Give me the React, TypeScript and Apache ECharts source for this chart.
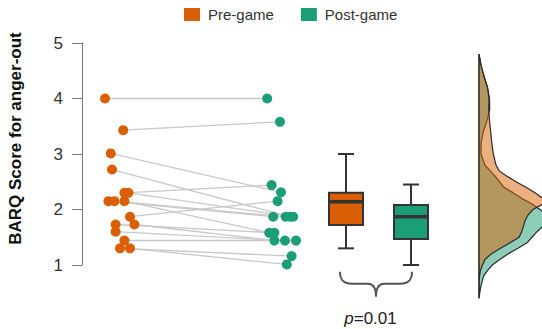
import React, { useEffect, useRef } from "react";
import * as echarts from "echarts";

// ---------- data ----------
const seriesNames = ["Pre-game", "Post-game"];
const seriesColors = ["#D95F02", "#1B9E77"];
const yTicks = [1, 2, 3, 4, 5];

// paired observations (pre[i] is linked to post[i]); x = horizontal jitter position (0-100 scale)
const preX = [5.75, 10.3, 7.2, 7.5, 10.6, 11.6, 6.6, 8.1, 10.6, 12.0, 8.4, 13.1, 8.4, 10.6, 9.5, 12.0];
const preY = [4.0, 3.43, 3.01, 2.72, 2.3, 2.3, 2.15, 2.15, 2.15, 1.87, 1.73, 1.73, 1.6, 1.44, 1.3, 1.3];
const postX = [46.3, 49.5, 49.75, 52.0, 47.4, 52.8, 47.8, 50.9, 46.8, 48.9, 48.1, 48.1, 50.75, 53.5, 52.4, 51.2];
const postY = [4.0, 3.58, 2.31, 1.87, 2.44, 1.87, 1.87, 1.87, 1.58, 2.15, 1.58, 1.44, 1.44, 1.44, 1.16, 1.01];

// box plots: [position, min, q1, median, q3, max]
const boxPre = [66, 1.3, 1.72, 2.14, 2.3, 3.0];
const boxPost = [82.25, 1.0, 1.47, 1.87, 2.08, 2.45];

// density profiles (score level -> density)
const densityScores = [4.8, 4.6, 4.4, 4.2, 4.0, 3.8, 3.6, 3.4, 3.2, 3.0, 2.8, 2.7, 2.6, 2.5, 2.4, 2.3, 2.2, 2.1, 2.0, 1.9, 1.8, 1.7, 1.6, 1.5, 1.4, 1.3, 1.2, 1.1, 1.0, 0.9, 0.8, 0.7, 0.6, 0.5, 0.4];
const densityPre = [0, 0.02, 0.05, 0.085, 0.1, 0.097, 0.105, 0.117, 0.128, 0.143, 0.17, 0.2, 0.28, 0.37, 0.47, 0.56, 0.64, 0.64, 0.54, 0.49, 0.46, 0.445, 0.427, 0.4, 0.31, 0.215, 0.123, 0.06, 0.035, 0.015, 0.005, 0.002, 0, 0, 0];
const densityPost = [0, 0.02, 0.05, 0.085, 0.105, 0.107, 0.08, 0.043, 0.02, 0.02, 0.06, 0.11, 0.16, 0.205, 0.25, 0.34, 0.43, 0.53, 0.61, 0.68, 0.7, 0.64, 0.58, 0.53, 0.48, 0.39, 0.29, 0.207, 0.133, 0.084, 0.046, 0.031, 0.017, 0.008, 0];

const pText = "0.01";
const yAxisTitle = "BARQ Score for anger-out";

const FONT = "'Liberation Sans', Arial, Helvetica, sans-serif";
const BOX_W = 8.5;
const CAP_W = 4;

const bracePath =
  "M0 0 C0 9 4 12 12 12 L28 12 C33 12 36 16 36 25 C36 16 39 12 44 12 L60 12 C68 12 72 9 72 0";
let braceRegistered = false;

export default function App() {
  const ref = useRef<HTMLDivElement>(null);

  useEffect(() => {
    if (!ref.current) return;
    if (!braceRegistered) {
      echarts.graphic.registerShape("brace", echarts.graphic.extendPath(bracePath, {}));
      braceRegistered = true;
    }
    const chart = echarts.init(ref.current, null, { renderer: "svg" });

    const boxRender = (params: any, api: any) => {
      const x = api.value(0);
      const mn = api.value(1), q1 = api.value(2), med = api.value(3), q3 = api.value(4), mx = api.value(5);
      const w = api.size([BOX_W, 0])[0];
      const c = api.size([CAP_W, 0])[0];
      const pMin = api.coord([x, mn]);
      const pQ1 = api.coord([x, q1]);
      const pMed = api.coord([x, med]);
      const pQ3 = api.coord([x, q3]);
      const pMax = api.coord([x, mx]);
      const cx = pMin[0];
      const stroke = "#333";
      const lw = 2;
      return {
        type: "group",
        children: [
          { type: "line", shape: { x1: cx, y1: pMax[1], x2: cx, y2: pQ3[1] }, style: { stroke, lineWidth: lw } },
          { type: "line", shape: { x1: cx, y1: pQ1[1], x2: cx, y2: pMin[1] }, style: { stroke, lineWidth: lw } },
          { type: "line", shape: { x1: cx - c / 2, y1: pMax[1], x2: cx + c / 2, y2: pMax[1] }, style: { stroke, lineWidth: lw } },
          { type: "line", shape: { x1: cx - c / 2, y1: pMin[1], x2: cx + c / 2, y2: pMin[1] }, style: { stroke, lineWidth: lw } },
          {
            type: "rect",
            shape: { x: cx - w / 2, y: pQ3[1], width: w, height: pQ1[1] - pQ3[1] },
            style: { fill: seriesColors[params.dataIndex], stroke, lineWidth: lw },
          },
          { type: "line", shape: { x1: cx - w / 2, y1: pMed[1], x2: cx + w / 2, y2: pMed[1] }, style: { stroke, lineWidth: 3.5 } },
        ],
      };
    };

    const densityRender = (fill: string) => (params: any, api: any) => {
      if (params.dataIndexInside !== 0) return null;
      const pts: number[][] = [];
      const n = params.dataInsideLength;
      for (let i = 0; i < n; i++) {
        pts.push(api.coord([api.value(0, i), api.value(1, i)]));
      }
      return {
        type: "polygon",
        shape: { points: pts },
        style: { fill, stroke: "#2a2a2a", lineWidth: 1.2 },
      };
    };

    const option: any = {
      animation: false,
      backgroundColor: "#ffffff",
      textStyle: { fontFamily: FONT },
      legend: {
        data: seriesNames,
        left: 179,
        top: 2,
        icon: "rect",
        itemWidth: 16,
        itemHeight: 13,
        itemGap: 27,
        textStyle: { fontSize: 15, color: "#333", fontFamily: FONT, padding: [0, 0, 0, 3] },
      },
      grid: [
        { left: 82, top: 43, width: 400, height: 222 },
        { left: 479, top: 43, width: 63, height: 277.5 },
      ],
      xAxis: [
        { type: "value", gridIndex: 0, min: 0, max: 100, show: false },
        { type: "value", gridIndex: 1, min: 0, max: 0.63, show: false },
      ],
      yAxis: [
        {
          type: "value",
          gridIndex: 0,
          min: yTicks[0],
          max: yTicks[yTicks.length - 1],
          interval: 1,
          axisLine: { show: true, lineStyle: { color: "#777", width: 1 } },
          axisTick: { show: true, length: 10, lineStyle: { color: "#777", width: 1 } },
          axisLabel: { fontSize: 17, color: "#333", margin: 19, fontFamily: FONT },
          splitLine: { show: false },
        },
        { type: "value", gridIndex: 1, min: 0, max: 5, show: false },
      ],
      series: [
        {
          type: "lines",
          coordinateSystem: "cartesian2d",
          xAxisIndex: 0,
          yAxisIndex: 0,
          z: 1,
          silent: true,
          lineStyle: { color: "#c8c8c8", width: 1.3, opacity: 1 },
          data: preX.map((x, i) => ({ coords: [[x, preY[i]], [postX[i], postY[i]]] })),
        },
        {
          name: seriesNames[0],
          type: "scatter",
          xAxisIndex: 0,
          yAxisIndex: 0,
          z: 3,
          symbolSize: 10,
          itemStyle: { color: seriesColors[0], opacity: 1 },
          data: preX.map((x, i) => [x, preY[i]]),
        },
        {
          name: seriesNames[1],
          type: "scatter",
          xAxisIndex: 0,
          yAxisIndex: 0,
          z: 3,
          symbolSize: 10,
          itemStyle: { color: seriesColors[1], opacity: 1 },
          data: postX.map((x, i) => [x, postY[i]]),
        },
        {
          name: "box",
          type: "custom",
          xAxisIndex: 0,
          yAxisIndex: 0,
          z: 4,
          renderItem: boxRender,
          encode: { x: 0, y: [1, 2, 3, 4, 5] },
          data: [boxPre, boxPost],
        },
        {
          name: "densityPost",
          type: "custom",
          xAxisIndex: 1,
          yAxisIndex: 1,
          z: 2,
          clip: false,
          renderItem: densityRender("rgba(27,158,119,0.5)"),
          encode: { x: 0, y: 1 },
          data: densityScores.map((s, i) => [densityPost[i], s]),
        },
        {
          name: "densityPre",
          type: "custom",
          xAxisIndex: 1,
          yAxisIndex: 1,
          z: 3,
          clip: false,
          renderItem: densityRender("rgba(217,95,2,0.5)"),
          encode: { x: 0, y: 1 },
          data: densityScores.map((s, i) => [densityPre[i], s]),
        },
      ],
      graphic: [
        {
          type: "text",
          x: 15,
          y: 138.5,
          rotation: Math.PI / 2,
          style: {
            text: yAxisTitle,
            fontSize: 17,
            fontWeight: "bold",
            fontFamily: FONT,
            fill: "#111",
            align: "center",
            verticalAlign: "middle",
          },
        },
        {
          type: "brace",
          x: 340,
          y: 271.7,
          shape: {},
          style: { stroke: "#555", fill: "none", lineWidth: 2 },
        },
        {
          type: "text",
          x: 370.5,
          y: 318.5,
          style: {
            text: "{i|p}=" + pText,
            fontSize: 17,
            fontFamily: FONT,
            fill: "#222",
            align: "center",
            verticalAlign: "middle",
            rich: { i: { fontStyle: "italic", fontSize: 17, fontFamily: FONT, fill: "#222" } },
          },
        },
      ],
    };

    chart.setOption(option);
    return () => chart.dispose();
  }, []);

  return (
    <div
      ref={ref}
      style={{ position: "fixed", left: 0, top: 0, width: 542, height: 329, background: "#fff" }}
    />
  );
}
